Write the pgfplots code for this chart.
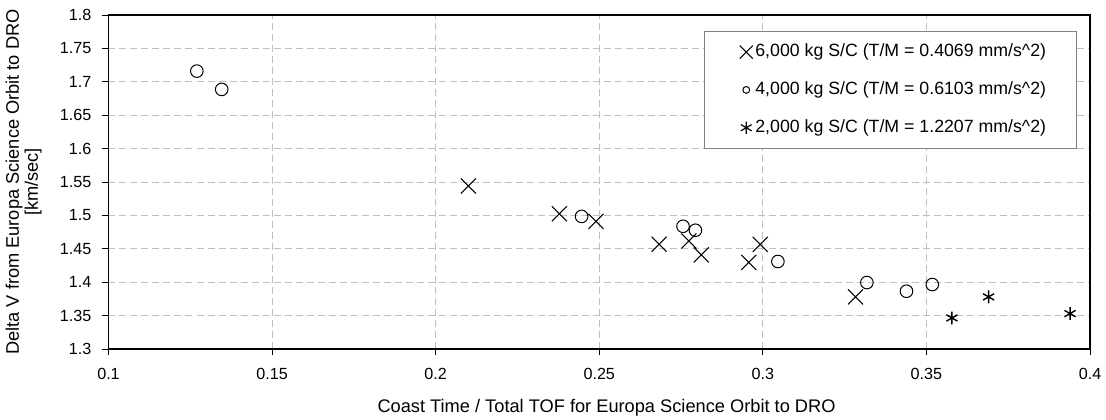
\documentclass[border=0pt]{standalone}
\usepackage{fontspec}
\setmainfont{Liberation Sans}
\usepackage{pgfplots}
\pgfplotsset{compat=1.18}

\definecolor{gridgray}{HTML}{C0C0C0}
\definecolor{boxgray}{HTML}{808080}

\begin{document}
\begin{tikzpicture}
\begin{axis}[
    scale only axis,
    width=981.5bp, height=334bp,
    xmin=0.1, xmax=0.4,
    ymin=1.3, ymax=1.8,
    xtick={0.1,0.15,0.2,0.25,0.3,0.35,0.4},
    xticklabels={0.1,0.15,0.2,0.25,0.3,0.35,0.4},
    ytick={1.3,1.35,1.4,1.45,1.5,1.55,1.6,1.65,1.7,1.75,1.8},
    yticklabels={1.3,1.35,1.4,1.45,1.5,1.55,1.6,1.65,1.7,1.75,1.8},
    xtick pos=bottom, ytick pos=left,
    tick align=outside,
    major tick length=6bp,
    tick style={draw=black, line width=0.9bp},
    axis line style={draw=black, line width=1.8bp},
    grid=major,
    major grid style={draw=gridgray, line width=0.8bp, dash pattern=on 7bp off 4bp},
    tick label style={font=\fontsize{16.2}{19}\selectfont, text=black},
    xticklabel style={inner sep=0pt, anchor=north, yshift=-13bp},
    yticklabel style={inner sep=0pt, anchor=east, xshift=-11bp},
    xlabel={Coast Time / Total TOF for Europa Science Orbit to DRO},
    xlabel style={font=\fontsize{18.3}{18}\selectfont, inner sep=0pt,
        at={(axis description cs:0.5074,0)}, anchor=base, yshift=-63bp},
    ylabel={Delta V from Europa Science Orbit to DRO\\{[km/sec]}},
    ylabel style={font=\fontsize{18.3}{19}\selectfont, inner sep=0pt, align=center,
        at={(axis description cs:-0.0680,0.5)}, anchor=south},
    legend style={
        at={(rel axis cs:0.6067,0.95)}, anchor=north west,
        draw=boxgray, line width=0.8bp, fill=white,
        inner xsep=30bp, inner ysep=12bp, outer sep=0pt,
        row sep=21bp, column sep=2bp,
        font=\fontsize{17.8}{20}\selectfont,
        nodes={inner sep=0pt, text height=13bp, text depth=3.8bp},
    },
    legend cell align=left,
    legend image code/.code={
        \path (-11.7bp,0bp) (6.5bp,0bp);
        \draw[#1] plot coordinates {(0bp,0bp)};
    },
]
\addplot[only marks, mark=x, mark size=10.6bp, line width=1.1bp, black,
    legend image post style={mark size=9.2bp, line width=1bp}] coordinates {
    (0.2100,1.5440) (0.2378,1.5025) (0.2490,1.4910) (0.2683,1.4567)
    (0.2774,1.4616) (0.2812,1.4409) (0.2957,1.4296) (0.2992,1.4567)
    (0.3283,1.3780)
};
\addlegendentry{6,000 kg S/C (T/M = 0.4069 mm/s\^{}2)}
\addplot[only marks, mark=o, mark size=6.3bp, line width=1bp, black,
    legend image post style={mark size=3.4bp, line width=1bp}] coordinates {
    (0.1270,1.7160) (0.1346,1.6886) (0.2446,1.4985) (0.2756,1.4837)
    (0.2794,1.4778) (0.3046,1.4310) (0.3318,1.3995) (0.3439,1.3865)
    (0.3518,1.3965)
};
\addlegendentry{4,000 kg S/C (T/M = 0.6103 mm/s\^{}2)}
\addplot[only marks, mark=asterisk, mark size=6.4bp, line width=1.4bp, black,
    legend image post style={mark size=6.2bp, line width=1.2bp}] coordinates {
    (0.3578,1.3465) (0.3690,1.3780) (0.3939,1.3530)
};
\addlegendentry{2,000 kg S/C (T/M = 1.2207 mm/s\^{}2)}
\end{axis}
\pgfresetboundingbox
\path (current axis.south west) ++(-108.5bp,-71bp) rectangle ++(1106bp,420bp);
\end{tikzpicture}
\end{document}
